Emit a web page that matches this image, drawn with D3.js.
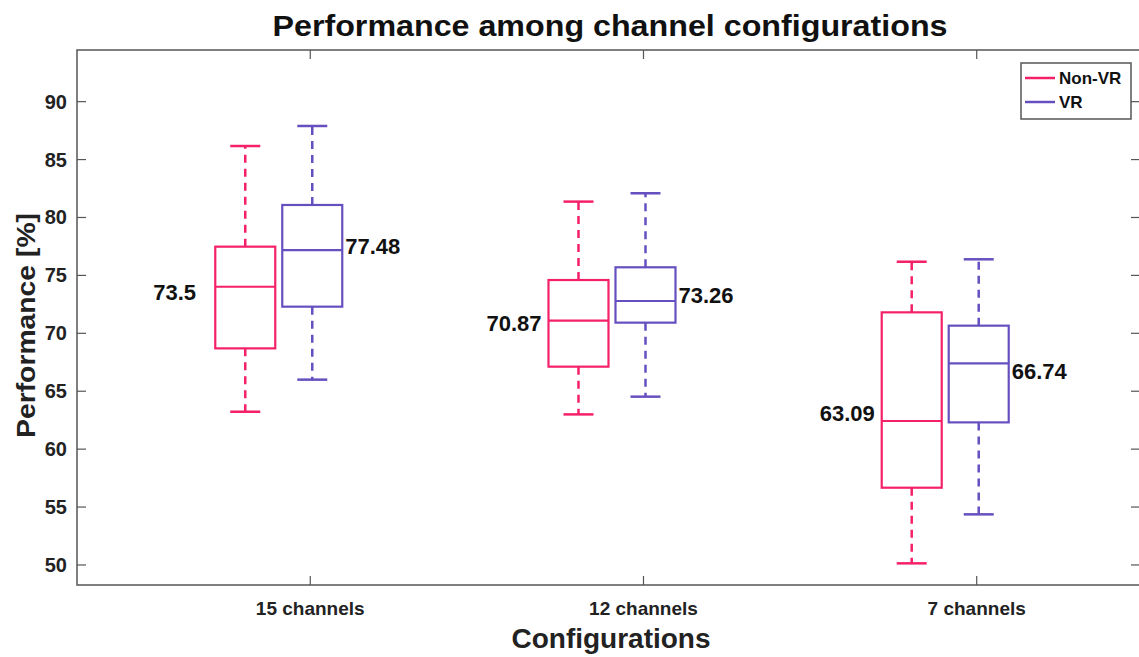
<!DOCTYPE html>
<html>
<head>
<meta charset="utf-8">
<script src="https://cdn.jsdelivr.net/npm/d3@7"></script>
<style>
  body { margin: 0; background: #fff; }
  text { font-family: Arial, "Liberation Sans", Helvetica, sans-serif; font-weight: bold; }
</style>
</head>
<body>
<div id="chart"></div>
<script>
// data
const categories = ['15 channels', '12 channels', '7 channels'];
const groups = ['Non-VR', 'VR'];
const yTicks = [50, 55, 60, 65, 70, 75, 80, 85, 90];

const nonVrLow = [63.23, 63.0, 50.14];
const nonVrQ1 = [68.7, 67.12, 56.67];
const nonVrMedian = [74.02, 71.09, 62.43];
const nonVrQ3 = [77.48, 74.6, 71.81];
const nonVrHigh = [86.17, 81.37, 76.18];
const nonVrMean = [73.5, 70.87, 63.09];

const vrLow = [66.0, 64.53, 54.37];
const vrQ1 = [72.3, 70.92, 62.31];
const vrMedian = [77.19, 72.79, 67.41];
const vrQ3 = [81.08, 75.7, 70.66];
const vrHigh = [87.9, 82.09, 76.39];
const vrMean = [77.48, 73.26, 66.74];

const width = 1139;
const height = 657;
const margin = { left: 77, right: -1, top: 50, bottom: 72 };

const color = d3.scaleOrdinal().domain(groups).range(['#f5206a', '#6650c0']);
// pixel offsets of each box from the category tick, and where its label starts
const boxOffset = { 'Non-VR': -65, 'VR': 2 };
const labelOffset = { 'Non-VR': -157, 'VR': 35 };
const boxW = 60;
const capW = 30;

const svg = d3.select('#chart')
    .append('svg')
    .attr('width', width)
    .attr('height', height);

const x = d3.scaleLinear()
    .domain([-0.7, 2.49])
    .range([margin.left, width - margin.right]);

const y = d3.scaleLinear()
    .domain([48.27, 94.46])
    .range([height - margin.bottom, margin.top]);

const x0 = x.range()[0], x1 = x.range()[1];
const y0 = y.range()[0], y1 = y.range()[1];
const axisColor = '#555';

//caixa dos eixos
svg.append('rect')
    .attr('x', x0).attr('y', y1)
    .attr('width', x1 - x0).attr('height', y0 - y1)
    .attr('fill', 'none')
    .attr('stroke', axisColor)
    .attr('stroke-width', 1.5);

//ticks y (dentro, esquerda e direita)
const tickLen = 9;
yTicks.forEach(t => {
    svg.append('line')
        .attr('x1', x0).attr('x2', x0 + tickLen)
        .attr('y1', y(t)).attr('y2', y(t))
        .attr('stroke', axisColor).attr('stroke-width', 1.2);
    svg.append('line')
        .attr('x1', x1).attr('x2', x1 - tickLen)
        .attr('y1', y(t)).attr('y2', y(t))
        .attr('stroke', axisColor).attr('stroke-width', 1.2);
    svg.append('text')
        .attr('x', x0 - 10)
        .attr('y', y(t))
        .attr('dy', '.35em')
        .attr('text-anchor', 'end')
        .attr('font-size', '20px')
        .attr('fill', '#222')
        .text(t);
});

//ticks x
categories.forEach((c, i) => {
    svg.append('line')
        .attr('x1', x(i)).attr('x2', x(i))
        .attr('y1', y0).attr('y2', y0 - tickLen)
        .attr('stroke', axisColor).attr('stroke-width', 1.2);
    svg.append('line')
        .attr('x1', x(i)).attr('x2', x(i))
        .attr('y1', y1).attr('y2', y1 + tickLen)
        .attr('stroke', axisColor).attr('stroke-width', 1.2);
    svg.append('text')
        .attr('x', x(i))
        .attr('y', y0 + 30)
        .attr('text-anchor', 'middle')
        .attr('font-size', '19px')
        .attr('fill', '#222')
        .text(c);
});

//boxes
const stats = {
    'Non-VR': { low: nonVrLow, q1: nonVrQ1, med: nonVrMedian, q3: nonVrQ3, high: nonVrHigh, mean: nonVrMean },
    'VR': { low: vrLow, q1: vrQ1, med: vrMedian, q3: vrQ3, high: vrHigh, mean: vrMean }
};

groups.forEach(g => {
    const s = stats[g];
    const col = color(g);
    categories.forEach((c, i) => {
        const cx = x(i) + boxOffset[g];
        const gg = svg.append('g').attr('stroke', col).attr('fill', 'none');
        // whiskers
        gg.append('line')
            .attr('x1', cx).attr('x2', cx)
            .attr('y1', y(s.q3[i])).attr('y2', y(s.high[i]))
            .attr('stroke-width', 2.5)
            .attr('stroke-dasharray', '8,6');
        gg.append('line')
            .attr('x1', cx).attr('x2', cx)
            .attr('y1', y(s.q1[i])).attr('y2', y(s.low[i]))
            .attr('stroke-width', 2.5)
            .attr('stroke-dasharray', '8,6');
        // caps
        [s.low[i], s.high[i]].forEach(v => {
            gg.append('line')
                .attr('x1', cx - capW / 2).attr('x2', cx + capW / 2)
                .attr('y1', y(v)).attr('y2', y(v))
                .attr('stroke-width', 2.5);
        });
        // box
        gg.append('rect')
            .attr('x', cx - boxW / 2)
            .attr('y', y(s.q3[i]))
            .attr('width', boxW)
            .attr('height', y(s.q1[i]) - y(s.q3[i]))
            .attr('stroke-width', 2.2);
        // median
        gg.append('line')
            .attr('x1', cx - boxW / 2).attr('x2', cx + boxW / 2)
            .attr('y1', y(s.med[i])).attr('y2', y(s.med[i]))
            .attr('stroke-width', 2.2);
        // mean label
        svg.append('text')
            .attr('x', x(i) + labelOffset[g])
            .attr('y', y(s.mean[i]))
            .attr('dy', '.35em')
            .attr('font-size', '22px')
            .attr('fill', '#111')
            .text(s.mean[i]);
    });
});

//titulos
svg.append('text')
    .attr('x', 610)
    .attr('y', 36)
    .attr('text-anchor', 'middle')
    .attr('font-size', '30px')
    .attr('fill', '#111')
    .attr('textLength', 675)
    .attr('lengthAdjust', 'spacingAndGlyphs')
    .text('Performance among channel configurations');

svg.append('text')
    .attr('x', 611)
    .attr('y', 648)
    .attr('text-anchor', 'middle')
    .attr('font-size', '28px')
    .attr('fill', '#222')
    .text('Configurations');

svg.append('text')
    .attr('transform', `translate(35,${(y0 + y1) / 2 + 8}) rotate(-90)`)
    .attr('text-anchor', 'middle')
    .attr('font-size', '26px')
    .attr('fill', '#222')
    .attr('textLength', 225)
    .attr('lengthAdjust', 'spacingAndGlyphs')
    .text('Performance [%]');

//legenda
const legend = svg.append('g');
legend.append('rect')
    .attr('x', 1021).attr('y', 63)
    .attr('width', 110).attr('height', 56)
    .attr('fill', '#fff')
    .attr('stroke', axisColor)
    .attr('stroke-width', 1.5);

const legendItem = legend.selectAll('.legend')
    .data(groups)
    .enter().append('g')
    .attr('class', 'legend')
    .attr('transform', (d, i) => `translate(1025,${78 + i * 24})`);

legendItem.append('line')
    .attr('x1', 0).attr('x2', 30)
    .attr('stroke', d => color(d))
    .attr('stroke-width', 2.5);

legendItem.append('text')
    .attr('x', 34)
    .attr('dy', '.35em')
    .attr('font-size', '17px')
    .attr('fill', '#111')
    .text(d => d);
</script>
</body>
</html>
